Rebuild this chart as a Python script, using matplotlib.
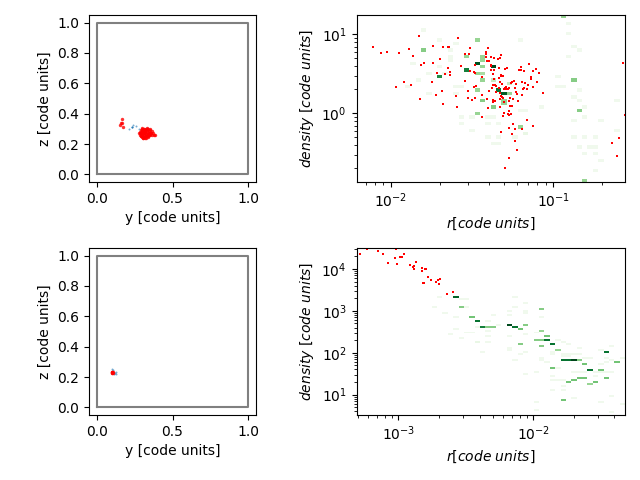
# plot.py
# Projections of two particle groups and their density against radius.

import numpy as np
import matplotlib
matplotlib.use("Agg")
import matplotlib.pyplot as plt

# Top row, left: y and z of the particles
top_y_red = [0.170, 0.165, 0.154, 0.158, 0.176,
             0.281, 0.284, 0.287, 0.290, 0.292, 0.295, 0.298, 0.300, 0.302, 0.305,
             0.288, 0.293, 0.297, 0.301, 0.306, 0.310, 0.314, 0.318, 0.322, 0.326,
             0.296, 0.304, 0.312, 0.320, 0.328, 0.332, 0.336, 0.340, 0.344, 0.348,
             0.308, 0.316, 0.324, 0.330, 0.338, 0.346, 0.350, 0.354, 0.358, 0.362,
             0.318, 0.326, 0.334, 0.342, 0.352, 0.360, 0.366, 0.372, 0.378, 0.385,
             0.300, 0.310, 0.320, 0.330, 0.340, 0.350, 0.295, 0.305, 0.315, 0.325]
top_z_red = [0.363, 0.336, 0.325, 0.336, 0.310,
             0.272, 0.262, 0.282, 0.254, 0.290, 0.270, 0.246, 0.298, 0.262, 0.282,
             0.276, 0.266, 0.256, 0.286, 0.242, 0.274, 0.300, 0.252, 0.284, 0.240,
             0.292, 0.270, 0.262, 0.294, 0.272, 0.250, 0.302, 0.266, 0.288, 0.258,
             0.248, 0.282, 0.256, 0.306, 0.244, 0.276, 0.298, 0.262, 0.270, 0.284,
             0.238, 0.266, 0.290, 0.276, 0.268, 0.276, 0.262, 0.270, 0.258, 0.262,
             0.304, 0.296, 0.278, 0.284, 0.256, 0.290, 0.250, 0.240, 0.244, 0.296]
top_y_blue = [0.213, 0.231, 0.242, 0.257, 0.231, 0.236, 0.281, 0.330]
top_z_blue = [0.299, 0.314, 0.325, 0.319, 0.310, 0.312, 0.299, 0.308]

# Bottom row, left
bot_y_red = [0.100, 0.103, 0.106, 0.100, 0.103, 0.106, 0.103]
bot_z_red = [0.228, 0.231, 0.234, 0.234, 0.226, 0.228, 0.236]
bot_y_blue = [0.103, 0.105, 0.126, 0.126, 0.117, 0.121]
bot_z_blue = [0.251, 0.246, 0.235, 0.220, 0.220, 0.228]

# Top row, right: log10 of r and density of the red particles
top_logr_red = [-2.113, -2.058, -2.021, -1.951, -1.889, -1.865, -1.828, -1.815, -1.797, -1.742,
                -1.742, -1.699, -1.680, -1.649, -1.643, -1.588, -1.514, -1.545, -1.520, -1.569,
                -1.483, -1.717, -1.668, -1.649, -1.637, -1.637, -1.514, -1.489, -1.483, -1.748,
                -1.920, -1.877, -1.969, -1.545, -1.489, -1.477, -1.686, -1.526, -1.723, -1.600,
                -1.822, -1.526, -1.502, -1.483, -1.680, -1.594,
                -1.403, -1.415, -1.415, -1.323, -1.384, -1.366, -1.341, -1.329, -1.415, -1.409,
                -1.397, -1.384, -1.384, -1.335, -1.384, -1.366, -1.298, -1.286, -1.200, -1.212,
                -1.200, -1.181, -1.150, -1.107, -1.126, -1.089, -1.372, -1.323, -1.310, -1.323,
                -1.335, -1.440, -1.366, -1.138, -1.138, -1.243, -1.255, -1.261, -1.329, -1.101,
                -1.194, -1.175, -1.317, -1.230, -1.157, -1.372, -1.360, -1.354, -1.126, -1.181,
                -1.187, -1.163, -1.378, -1.292, -1.298, -1.304, -1.292, -1.335, -1.274, -1.280,
                -1.237, -1.397, -1.354, -1.329, -1.230, -1.224, -1.064, -1.194, -1.440, -1.323,
                -1.317, -1.310, -1.329, -1.267, -1.409, -1.372, -1.360, -1.372, -1.274, -1.249,
                -1.218, -1.304, -1.267, -1.255, -1.329, -1.403, -1.274, -1.304, -1.280, -1.261,
                -1.274, -1.310, -1.440, -1.163, -1.249, -1.126, -1.274, -1.237, -1.194, -1.323,
                -1.255, -1.237, -1.224, -1.274, -1.298,
                -0.572, -0.560, -0.591, -0.640, -0.609]
top_logd_red = [0.839, 0.763, 0.776, 0.763, 0.814, 0.725, 0.979, 0.611, 0.637, 0.852,
                0.637, 0.687, 0.839, 0.839, 0.839, 0.953, 0.827, 0.751, 0.751, 0.599,
                0.611, 0.510, 0.498, 0.573, 0.523, 0.485, 0.536, 0.523, 0.510, 0.396,
                0.396, 0.358, 0.333, 0.409, 0.333, 0.346, 0.282, 0.282, 0.232, 0.219,
                0.181, 0.194, 0.168, 0.194, 0.118, 0.080,
                0.827, 0.776, 0.751, 0.738, 0.713, 0.700, 0.687, 0.700, 0.713, 0.662,
                0.662, 0.611, 0.599, 0.573, 0.548, 0.548, 0.561, 0.573, 0.586, 0.548,
                0.548, 0.536, 0.624, 0.561, 0.536, 0.510, 0.498, 0.485, 0.472, 0.472,
                0.447, 0.460, 0.434, 0.460, 0.434, 0.409, 0.396, 0.384, 0.396, 0.396,
                0.396, 0.384, 0.371, 0.371, 0.358, 0.358, 0.358, 0.346, 0.333, 0.320,
                0.308, 0.308, 0.320, 0.333, 0.320, 0.308, 0.308, 0.320, 0.320, 0.308,
                0.320, 0.282, 0.270, 0.257, 0.270, 0.244, 0.257, 0.232, 0.232, 0.219,
                0.206, 0.194, 0.181, 0.194, 0.181, 0.168, 0.156, 0.143, 0.156, 0.181,
                0.156, 0.143, 0.093, 0.093, 0.080, 0.067, 0.029, 0.004, -0.009, -0.009,
                -0.021, -0.034, -0.047, -0.085, -0.135, -0.161, -0.186, -0.199, -0.199, -0.237,
                -0.262, -0.351, -0.464, -0.566, -0.692,
                0.637, -0.021, -0.313, -0.376, -0.540]

# Top row, right: histogram cells with clear counts
top_logr_cell = [-1.795, -1.524, -1.692, -1.524, -1.459, -1.459, -1.459, -1.459, -1.459, -1.421,
                 -1.421, -1.421, -1.421, -1.354, -1.321, -1.286, -1.253, -1.286, -1.421, -1.354,
                 -1.218, -0.847, -0.880, -0.947, -0.812, -1.354, -1.253, -1.421, -1.286]
top_logd_cell = [0.793, 0.725, 0.451, 0.552, 0.919, 0.624, 0.489, 0.291, 0.017, 0.708,
                 0.590, 0.523, 0.421, 0.594, 0.291, 0.253, 0.253, 0.177, 0.152, 0.084,
                 -0.156, 0.050, 0.421, 1.223, -0.857, 0.421, 0.396, 0.670, 0.140]
top_count_cell = [45, 40, 75, 80, 40, 95, 40, 40, 40, 40,
                  40, 35, 40, 98, 85, 92, 40, 40, 45, 45,
                  40, 45, 45, 40, 40, 25, 25, 40, 40]

# Top row, right: cells with very few counts
top_logr_faint = [-1.795, -1.697, -1.623, -1.623, -1.623, -1.863, -1.760, -1.697, -1.586, -1.832,
                  -1.760, -1.586, -1.555, -1.586, -1.555, -1.555, -1.489, -1.489, -1.893, -1.658,
                  -1.218, -0.915, -0.915, -0.880, -0.847, -0.915, -0.980, -0.980, -0.947, -0.847,
                  -0.880, -0.847, -0.814, -0.880, -0.814, -0.814, -0.880, -0.744, -0.611, -0.611,
                  -0.712, -0.744, -0.744, -0.775, -0.814, -0.847, -0.744, -0.712, -1.083, -1.218,
                  -1.185, -1.390, -1.360, -1.390, -1.329, -1.329, -1.390, -1.185, -1.155, -1.329,
                  -1.360, -1.226]
top_logd_faint = [1.063, 0.919, 0.810, 0.696, 0.654, 0.632, 0.493, 0.573, 0.865, 0.400,
                  0.253, 0.337, 0.337, 0.253, -0.051, -0.118, -0.051, -0.211, 0.329, 0.506,
                  0.928, 1.126, 1.025, 0.860, 0.793, 0.708, 0.455, 0.320, 0.320, 0.295,
                  0.219, 0.152, 0.084, -0.085, -0.051, -0.287, -0.287, -0.287, 0.185, -0.232,
                  -0.085, -0.422, -0.490, -0.422, -0.515, -0.447, -0.717, -0.583, 0.084, 0.050,
                  0.050, -0.043, -0.043, -0.118, -0.148, -0.287, -0.287, -0.245, -0.245, -0.380,
                  -0.380, -0.296]

# Bottom row, right: red particles
bot_logr_red = [-3.284, -3.232, -3.150, -3.113, -3.076, -3.024, -3.017, -3.010, -2.987, -2.973,
                -2.958, -2.913, -2.891, -2.884, -2.884, -2.869, -2.824, -2.824, -2.817, -2.810,
                -2.802, -2.795, -2.780, -2.758, -2.721, -2.706, -2.699, -2.691, -2.639, -2.595]
bot_logd_red = [4.359, 4.470, 4.430, 4.359, 4.143, 4.263, 4.470, 4.119, 4.287, 4.287,
                4.359, 4.096, 4.048, 4.072, 4.000, 4.167, 4.024, 3.952, 3.665, 3.665,
                4.000, 4.000, 3.808, 3.737, 3.689, 3.737, 3.641, 3.761, 3.402, 3.450]

# Bottom row, right: histogram cells with clear counts
bot_logr_cell = [-2.563, -2.521, -2.439, -2.402, -2.358, -2.316, -2.276, -2.195, -2.155, -2.114,
                 -2.074, -1.951, -1.951, -1.993, -1.951, -1.909, -1.909, -1.951, -2.114, -1.869,
                 -1.827, -1.788, -1.748, -1.706, -1.706, -1.667, -1.625, -1.869, -1.583, -1.504,
                 -1.462, -1.380, -1.462, -1.667, -1.625, -1.706, -1.748, -1.543, -1.583, -1.788]
bot_logd_cell = [3.346, 3.115, 2.860, 2.756, 2.612, 2.612, 2.612, 2.660, 2.612, 2.565,
                 2.660, 3.067, 2.533, 2.301, 2.301, 2.301, 2.397, 2.158, 2.206, 2.206,
                 2.078, 1.799, 1.799, 1.799, 1.839, 1.799, 1.703, 1.632, 1.584, 1.584,
                 1.990, 1.751, 1.392, 1.392, 1.392, 1.345, 1.297, 1.289, 1.273, 0.890]
bot_count_cell = [90, 45, 50, 85, 80, 45, 45, 98, 85, 50,
                  45, 45, 40, 45, 45, 85, 50, 45, 45, 85,
                  40, 85, 85, 50, 50, 45, 50, 50, 85, 50,
                  85, 50, 50, 50, 50, 50, 50, 50, 40, 50]

# Bottom row, right: cells with very few counts
bot_logr_faint = [-2.155, -2.155, -2.195, -2.195, -2.074, -2.074, -2.037, -2.276, -1.951, -2.321,
                  -2.247, -2.321, -2.321, -2.193, -2.037, -1.988, -2.321, -2.395, -2.358, -2.193,
                  -2.193, -2.114, -2.037, -2.155, -2.074, -1.993, -1.951, -1.951, -1.909, -1.869,
                  -1.869, -1.827, -1.788, -1.748, -1.667, -1.788, -1.748, -1.788, -1.748, -1.706,
                  -1.667, -1.625, -1.583, -1.504, -1.422, -1.462, -1.462, -1.422, -1.343, -1.827,
                  -1.869, -1.869, -1.827, -1.788, -1.788, -1.788, -1.706, -1.667, -1.625, -1.543,
                  -1.504, -1.422, -1.543, -1.462, -1.504, -1.869, -1.706, -1.993, -1.993, -1.422,
                  -1.422, -1.343, -1.504,
                  -2.686, -2.726, -2.642, -2.563, -2.563, -2.600, -2.523, -2.481, -2.481, -2.439,
                  -2.402, -2.402, -2.481, -2.518]
bot_logd_faint = [3.338, 3.115, 3.003, 2.899, 3.218, 3.019, 2.979, 2.899, 2.860, 2.756,
                  2.660, 2.517, 2.405, 2.405, 2.421, 2.461, 2.262, 2.262, 2.000, 2.102,
                  2.038, 1.982, 1.998, 1.807, 1.496, 1.544, 1.823, 1.863, 1.759, 2.022,
                  1.943, 2.301, 2.262, 2.214, 2.118, 1.982, 1.982, 1.903, 1.903, 1.943,
                  1.943, 1.863, 1.887, 2.038, 2.166, 1.863, 1.783, 1.823, 1.847, 1.640,
                  1.448, 1.345, 1.345, 1.345, 1.225, 1.129, 1.544, 1.544, 1.544, 1.544,
                  1.544, 1.544, 1.448, 1.544, 1.703, 1.089, 0.938, 0.810, 0.635, 0.986,
                  0.587, 0.770, 0.810,
                  3.346, 3.115, 2.939, 2.860, 2.580, 2.453, 2.357, 3.115, 2.461, 2.501,
                  2.262, 2.620, 3.298, 3.298]

faint_count = 5
box_y = [0, 1, 1, 0, 0]
box_z = [0, 0, 1, 1, 0]


def projection(ax, y_red, z_red, y_blue, z_blue):
    ax.plot(box_y, box_z, color="gray", lw=1.5)
    ax.scatter(y_blue, z_blue, s=2, color="tab:blue", alpha=0.6, linewidths=0)
    ax.scatter(y_red, z_red, s=6, color="red", alpha=0.8, linewidths=0)
    ax.set_xlim(-0.05, 1.05)
    ax.set_ylim(-0.05, 1.05)
    ax.set_xticks([0, 0.5, 1])
    ax.set_yticks([0, 0.2, 0.4, 0.6, 0.8, 1.0])
    ax.set_xlabel("y [code units]")
    ax.set_ylabel("z [code units]")


def phase(ax, logr_cell, logd_cell, counts, logr_faint, logd_faint,
          logr_red, logd_red, xlog, ylog, ny):
    r = 10.0 ** np.array(logr_cell + logr_faint)
    dens = 10.0 ** np.array(logd_cell + logd_faint)
    weights = np.array(counts + [faint_count] * len(logr_faint), dtype=float)
    xedges = np.logspace(xlog[0], xlog[1], 51)
    yedges = np.logspace(ylog[0], ylog[1], ny + 1)
    ax.hist2d(r, dens, bins=[xedges, yedges], weights=weights, cmap="Greens",
              vmin=0, vmax=100, cmin=0.5)
    ax.scatter(10.0 ** np.array(logr_red), 10.0 ** np.array(logd_red),
               s=4.5, marker="s", color="red", linewidths=0)
    ax.set_xscale("log")
    ax.set_yscale("log")
    ax.set_xlim(10.0 ** xlog[0], 10.0 ** xlog[1])
    ax.set_ylim(10.0 ** ylog[0], 10.0 ** ylog[1])
    ax.set_xlabel(r"$r [code$ $units]$")
    ax.set_ylabel(r"$density$ $[code$ $units]$")


fig = plt.figure(figsize=(6.4, 4.8), dpi=100)
ax1 = fig.add_axes([89 / 640, 298 / 480, 167 / 640, 167 / 480])
ax2 = fig.add_axes([356.5 / 640, 298 / 480, 268.5 / 640, 167 / 480])
ax3 = fig.add_axes([89 / 640, 65 / 480, 167 / 640, 167 / 480])
ax4 = fig.add_axes([356.5 / 640, 65 / 480, 268.5 / 640, 167 / 480])

projection(ax1, top_y_red, top_z_red, top_y_blue, top_z_blue)
projection(ax3, bot_y_red, bot_z_red, bot_y_blue, bot_z_blue)
phase(ax2, top_logr_cell, top_logd_cell, top_count_cell, top_logr_faint, top_logd_faint,
      top_logr_red, top_logd_red, (-2.212, -0.557), (-0.87, 1.244), 50)
phase(ax4, bot_logr_cell, bot_logd_cell, bot_count_cell, bot_logr_faint, bot_logd_faint,
      bot_logr_red, bot_logd_red, (-3.31, -1.32), (0.514, 4.50), 84)

fig.savefig("out.png", dpi=100)
